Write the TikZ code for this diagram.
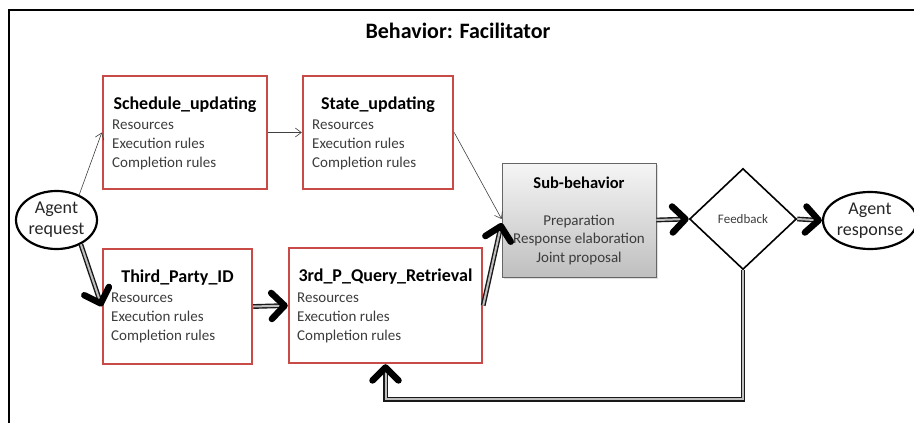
\documentclass[tikz,border=0pt]{standalone}
\usepackage{fontspec}
\setmainfont{Carlito}
\usetikzlibrary{arrows.meta,shapes.geometric,shadows}
\definecolor{boxred}{RGB}{200,75,72}
\definecolor{bodytxt}{RGB}{60,60,60}
\begin{document}
\begin{tikzpicture}[x=1pt,y=1pt,
  redbox/.style={draw=boxred, line width=2.4pt, inner sep=0pt},
  boxtitle/.style={font=\bfseries\fontsize{18}{20}\selectfont, inner sep=0pt, text=black},
  boxbody/.style={font=\fontsize{15}{18.8}\selectfont, inner sep=0pt, align=left, anchor=north west, text=bodytxt},
  oval/.style={ellipse, draw=black, line width=2.2pt, inner sep=0pt, align=center,
    font=\fontsize{18}{21}\selectfont, text=black!85},
  thinarrow/.style={draw=black!75, line width=0.6pt, -{Straight Barb[length=6pt,width=9pt]}},
  bigarrow/.style={preaction={draw=black!90, -, double=gray!50, double distance=2pt,
      line width=1.4pt, shorten >=8pt},
    draw=gray!50, line width=0.2pt,
    -{Straight Barb[length=13pt,width=26pt,line width=6.5pt,round,color=black]}}
]
\useasboundingbox (0,0) rectangle (914,-423);
% frame
\draw[line width=2.8pt, line cap=rect] (914,-10) -- (9,-10) -- (9,-423);
\node[font=\bfseries\fontsize{22}{24}\selectfont, inner sep=0pt] (title) at (458,-31) {Behavior: Facilitator};

% red process boxes
\node[redbox, minimum width=164pt, minimum height=113pt] (sched) at (185,-132.5) {};
\node[boxtitle] (schedt) at (185,-105) {Schedule\_updating};
\node[boxbody] (schedb) at (112,-120) {Resources\\Execution rules\\Completion rules};

\node[redbox, minimum width=150pt, minimum height=113pt] (state) at (378,-132.5) {};
\node[boxtitle] (statet) at (378,-105) {State\_updating};
\node[boxbody] (stateb) at (312,-120) {Resources\\Execution rules\\Completion rules};

\node[redbox, minimum width=149pt, minimum height=115pt] (third) at (177.5,-306.5) {};
\node[boxtitle] (thirdt) at (177.5,-278) {Third\_Party\_ID};
\node[boxbody] (thirdb) at (111,-293) {Resources\\Execution rules\\Completion rules};

\node[redbox, minimum width=193pt, minimum height=115pt] (q3) at (385.5,-305.5) {};
\node[boxtitle] (q3t) at (385.5,-277) {3rd\_P\_Query\_Retrieval};
\node[boxbody] (q3b) at (297,-293) {Resources\\Execution rules\\Completion rules};

% sub-behavior
\node[draw=black!60, line width=0.8pt, top color=gray!8, bottom color=gray!50,
  drop shadow={opacity=0.25, shadow xshift=2pt, shadow yshift=-2pt},
  minimum width=154pt, minimum height=114pt, inner sep=0pt] (sub) at (579,-220) {};
\node[font=\bfseries\fontsize{16.5}{19}\selectfont, inner sep=0pt] (subt) at (579,-183) {Sub-behavior};
\node[font=\fontsize{15}{18.5}\selectfont, align=center, inner sep=0pt, text=bodytxt] (subb) at (579,-240)
  {Preparation\\Response elaboration\\Joint proposal};

% feedback diamond
\node[diamond, draw=black, line width=1.6pt, minimum width=107pt, minimum height=101pt,
  inner sep=0pt, font=\fontsize{13}{15}\selectfont, text=bodytxt] (fb) at (743,-219) {Feedback};

% agents
\node[oval, minimum width=81pt, minimum height=58pt] (req) at (56.5,-220) {Agent\\request};
\node[oval, minimum width=88pt, minimum height=57pt] (resp) at (870,-220.5) {Agent\\response};

% thin connectors
\draw[thinarrow] (req.48) -- (sched.west);
\draw[thinarrow] (sched.east) -- (state.west);
\draw[thinarrow] (state.east) -- ([yshift=1pt]sub.west);

% thick connectors
\path[bigarrow] (req.-45) -- (third.west);
\path[bigarrow] (third.east) -- (q3.west);
\path[bigarrow] (q3.east) -- ([yshift=-3pt]sub.west);
\path[bigarrow] (sub.east) -- (fb.west);
\path[bigarrow] (fb.east) -- (resp.west);
\path[bigarrow] (fb.south) -- ++(0,-129) -| (q3.south);
\end{tikzpicture}
\end{document}
